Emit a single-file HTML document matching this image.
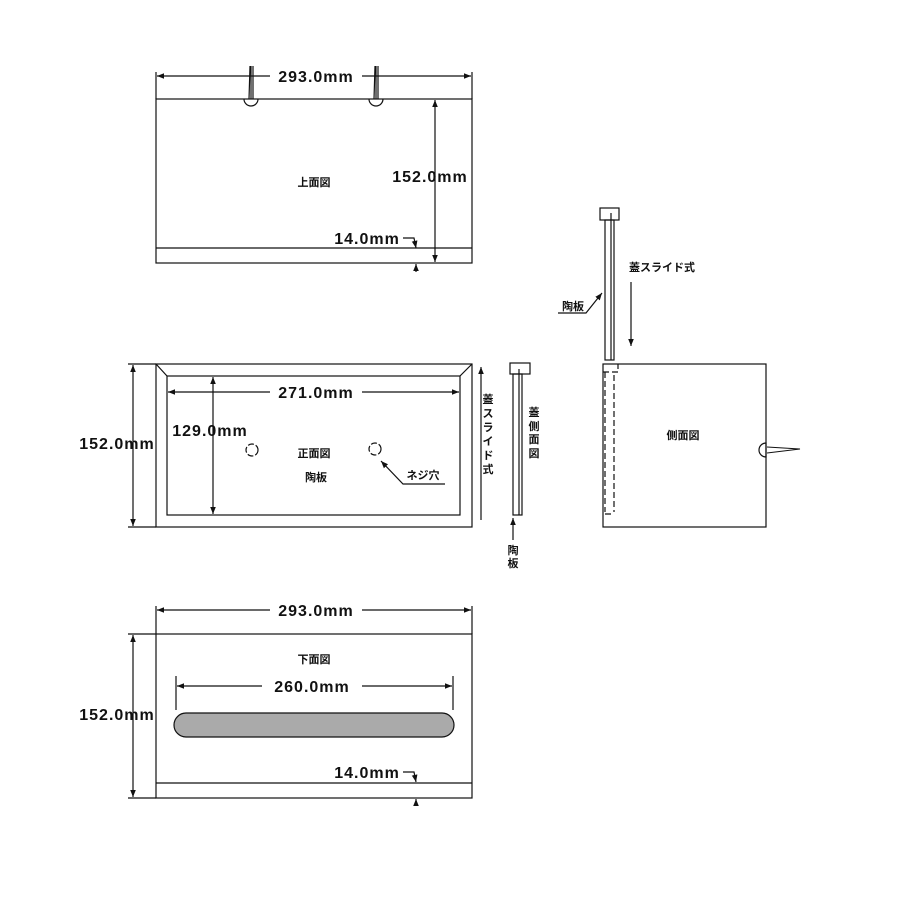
<!DOCTYPE html>
<html><head><meta charset="utf-8"><style>body{margin:0;background:#fff}svg{display:block}
text{font-family:"Liberation Sans","Noto Sans CJK JP",sans-serif;font-weight:bold;fill:#111}
.d{font-size:16px;letter-spacing:1px}.s{font-size:11px}</style></head><body>
<svg width="900" height="900" viewBox="0 0 900 900" xmlns="http://www.w3.org/2000/svg">
<defs><marker id="a" viewBox="0 0 10 10" refX="10" refY="5" markerWidth="6" markerHeight="6" orient="auto-start-reverse"><path d="M0,1 L10,5 L0,9z" fill="#111"/></marker></defs>
<g fill="none" stroke="#111" stroke-width="1.2">
<!-- top view -->
<rect x="156" y="99" width="316" height="164"/><line x1="156" y1="248" x2="472" y2="248"/>
<line x1="156" y1="72" x2="156" y2="99"/><line x1="472" y1="72" x2="472" y2="99"/>
<line x1="157" y1="76" x2="270" y2="76" marker-start="url(#a)"/><line x1="362" y1="76" x2="471" y2="76" marker-end="url(#a)"/>
<line x1="435" y1="100" x2="435" y2="262" marker-start="url(#a)" marker-end="url(#a)"/>
<path d="M403,238 H414 L416,248" marker-end="url(#a)"/><line x1="416" y1="272" x2="416" y2="264" marker-end="url(#a)"/>
<path d="M251,66 V99 M250,66 L249,99 M253,66 L253,99"/><path d="M244,99 A7,7 0 0 0 258,99"/>
<path d="M376,66 V99 M375,66 L374,99 M378,66 L378,99"/><path d="M369,99 A7,7 0 0 0 383,99"/>
<!-- front view -->
<rect x="156" y="364" width="316" height="163"/><rect x="167" y="376" width="293" height="139"/>
<path d="M156,364 L167,376 M472,364 L460,376"/>
<line x1="168" y1="392" x2="270" y2="392" marker-start="url(#a)"/><line x1="362" y1="392" x2="459" y2="392" marker-end="url(#a)"/>
<line x1="213" y1="377" x2="213" y2="514" marker-start="url(#a)" marker-end="url(#a)"/>
<line x1="133" y1="365" x2="133" y2="526" marker-start="url(#a)" marker-end="url(#a)"/>
<line x1="128" y1="364" x2="156" y2="364"/><line x1="128" y1="527" x2="156" y2="527"/>
<circle cx="252" cy="450" r="6" stroke-dasharray="6,2"/><circle cx="375" cy="449" r="6" stroke-dasharray="6,2"/>
<path d="M445,484 H403 L381,461" marker-end="url(#a)"/>
<line x1="481" y1="520" x2="481" y2="367" marker-end="url(#a)"/>
<!-- lid side -->
<rect x="510" y="363" width="20" height="11"/><rect x="513" y="374" width="9" height="141"/><line x1="519" y1="369" x2="519" y2="515"/>
<line x1="513" y1="540" x2="513" y2="518" marker-end="url(#a)"/>
<!-- top right lid -->
<rect x="600" y="208" width="19" height="12"/><rect x="605" y="220" width="9" height="140"/><line x1="611" y1="213" x2="611" y2="360"/>
<line x1="631" y1="282" x2="631" y2="346" marker-end="url(#a)"/>
<path d="M558,313 H586 L602,293" marker-end="url(#a)"/>
<!-- side view -->
<rect x="603" y="364" width="163" height="163"/>
<path d="M603,372 H618 V364 M605,372 V512 M614,375 V512 M614,372 H618 M605,514 H614" stroke-dasharray="6,3"/>
<path d="M766,443 A7,7 0 0 0 766,457 Z"/><path d="M767,447 L800,449 L767,453" stroke-width="1"/>
<!-- bottom view -->
<rect x="156" y="634" width="316" height="164"/><line x1="156" y1="783" x2="472" y2="783"/>
<line x1="156" y1="606" x2="156" y2="634"/><line x1="472" y1="606" x2="472" y2="634"/>
<line x1="157" y1="610" x2="270" y2="610" marker-start="url(#a)"/><line x1="362" y1="610" x2="471" y2="610" marker-end="url(#a)"/>
<line x1="133" y1="635" x2="133" y2="797" marker-start="url(#a)" marker-end="url(#a)"/>
<line x1="128" y1="634" x2="156" y2="634"/><line x1="128" y1="798" x2="156" y2="798"/>
<line x1="176" y1="676" x2="176" y2="710"/><line x1="453" y1="676" x2="453" y2="710"/>
<line x1="177" y1="686" x2="262" y2="686" marker-start="url(#a)"/><line x1="362" y1="686" x2="452" y2="686" marker-end="url(#a)"/>
<rect x="174" y="713" width="280" height="24" rx="12" fill="#aaa"/>
<path d="M403,772 H414 L416,782" marker-end="url(#a)"/><line x1="416" y1="806" x2="416" y2="799" marker-end="url(#a)"/>
</g>
<text class="d" x="316" y="82" text-anchor="middle">293.0mm</text>
<text class="s" x="314" y="186" text-anchor="middle">上面図</text>
<text class="d" x="430" y="182" text-anchor="middle">152.0mm</text>
<text class="d" x="367" y="244" text-anchor="middle">14.0mm</text>
<text class="d" x="316" y="398" text-anchor="middle">271.0mm</text>
<text class="d" x="210" y="436" text-anchor="middle">129.0mm</text>
<text class="d" x="117" y="449" text-anchor="middle">152.0mm</text>
<text class="s" x="314" y="457" text-anchor="middle">正面図</text>
<text class="s" x="316" y="481" text-anchor="middle">陶板</text>
<text class="s" x="423" y="479" text-anchor="middle">ネジ穴</text>
<text class="s" x="488" y="403" text-anchor="middle">蓋</text><text class="s" x="488" y="417" text-anchor="middle">ス</text><text class="s" x="488" y="431" text-anchor="middle">ラ</text><text class="s" x="488" y="445" text-anchor="middle">イ</text><text class="s" x="488" y="459" text-anchor="middle">ド</text><text class="s" x="488" y="473" text-anchor="middle">式</text>
<text class="s" x="534" y="416" text-anchor="middle">蓋</text><text class="s" x="534" y="430" text-anchor="middle">側</text><text class="s" x="534" y="443" text-anchor="middle">面</text><text class="s" x="534" y="457" text-anchor="middle">図</text>
<text class="s" x="513" y="554" text-anchor="middle">陶</text><text class="s" x="513" y="567" text-anchor="middle">板</text>
<text class="s" x="662" y="271" text-anchor="middle">蓋スライド式</text>
<text class="s" x="573" y="310" text-anchor="middle">陶板</text>
<text class="s" x="683" y="439" text-anchor="middle">側面図</text>
<text class="d" x="316" y="616" text-anchor="middle">293.0mm</text>
<text class="s" x="314" y="663" text-anchor="middle">下面図</text>
<text class="d" x="312" y="692" text-anchor="middle">260.0mm</text>
<text class="d" x="117" y="720" text-anchor="middle">152.0mm</text>
<text class="d" x="367" y="778" text-anchor="middle">14.0mm</text>
</svg></body></html>
